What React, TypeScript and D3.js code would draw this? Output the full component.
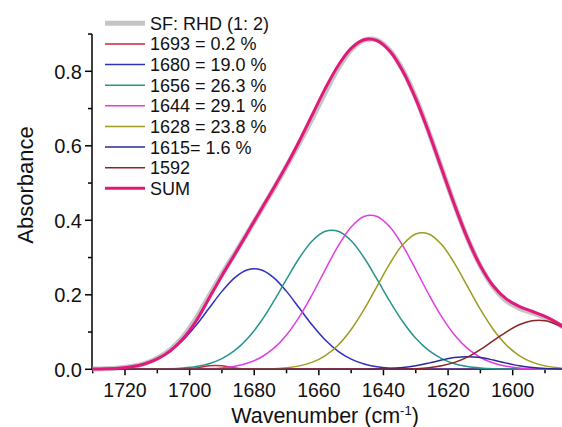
import React from "react";
import * as d3 from "d3";

const WN = [1730,1726,1722,1718,1714,1710,1706,1702,1698,1694,1690,1686,1682,1678,1674,1670,1666,1662,1658,1654,1650,1646,1642,1638,1634,1630,1626,1622,1618,1614,1610,1606,1602,1598,1594,1590,1586,1582];

const EXPERIMENT = [0.0005,0.0013,0.0033,0.0075,0.0155,0.030,0.053,0.088,0.137,0.197,0.256,0.311,0.368,0.426,0.484,0.545,0.608,0.674,0.743,0.808,0.858,0.884,0.884,0.856,0.803,0.729,0.638,0.540,0.442,0.352,0.277,0.221,0.184,0.164,0.152,0.139,0.122,0.099];

const P1693 = [0,0,0,0,0,0,0,0.0005,0.0036,0.0097,0.0097,0.0036,0.0005,0,0,0,0,0,0,0,0,0,0,0,0,0,0,0,0,0,0,0,0,0,0,0,0,0];
const P1680 = [0.0005,0.0012,0.003,0.0068,0.0141,0.0272,0.0481,0.0786,0.1182,0.1638,0.2092,0.2463,0.2672,0.2672,0.2463,0.2092,0.1638,0.1182,0.0786,0.0481,0.0272,0.0141,0.0068,0.003,0.0012,0.0005,0.0002,0,0,0,0,0,0,0,0,0,0,0];
const P1656 = [0,0,0,0.0001,0.0002,0.0006,0.0014,0.0034,0.0074,0.0151,0.0287,0.0506,0.0833,0.1276,0.1821,0.2419,0.2995,0.3452,0.3707,0.3707,0.3452,0.2995,0.2419,0.1821,0.1276,0.0833,0.0506,0.0287,0.0151,0.0074,0.0034,0.0014,0.0006,0.0002,0.0001,0,0,0];
const P1644 = [0,0,0,0,0,0,0.0001,0.0002,0.0006,0.0016,0.0038,0.0082,0.0167,0.0317,0.056,0.0922,0.1412,0.2015,0.2678,0.3315,0.3822,0.4103,0.4103,0.3822,0.3315,0.2678,0.2015,0.1412,0.0922,0.056,0.0317,0.0167,0.0082,0.0038,0.0016,0.0006,0.0002,0.0001];
const P1628 = [0,0,0,0,0,0,0,0,0,0,0,0.0001,0.0002,0.0006,0.0017,0.0041,0.0092,0.0192,0.037,0.0654,0.1068,0.1606,0.2226,0.2843,0.3348,0.3633,0.3633,0.3348,0.2843,0.2226,0.1606,0.1068,0.0654,0.037,0.0192,0.0092,0.0041,0.0017];
const P1615 = [0,0,0,0,0,0,0,0,0,0,0,0,0,0,0,0,0,0,0,0,0.0001,0.0002,0.0007,0.0019,0.0046,0.0095,0.0166,0.0247,0.0314,0.034,0.0314,0.0247,0.0166,0.0095,0.0046,0.0019,0.0007,0.0002];
const P1592 = [0,0,0,0,0,0,0,0,0,0,0,0,0,0,0,0,0,0,0,0,0,0,0.0001,0.0003,0.0007,0.0018,0.0043,0.0095,0.0185,0.0325,0.053,0.077,0.100,0.1195,0.1304,0.1304,0.1187,0.0982];
const SUM = [0.0005,0.0012,0.003,0.0069,0.0143,0.0278,0.0496,0.0827,0.1298,0.1902,0.2514,0.3088,0.3679,0.4271,0.4861,0.5474,0.6137,0.6841,0.7541,0.8157,0.8615,0.8847,0.8824,0.8538,0.8004,0.7262,0.6365,0.5386,0.4409,0.3515,0.2777,0.2235,0.189,0.1692,0.1558,0.1421,0.1237,0.1001];

const LEGEND_LABELS = ["SF: RHD (1: 2)","1693 = 0.2 %","1680 = 19.0 %","1656 = 26.3 %","1644 = 29.1 %","1628 = 23.8 %","1615= 1.6 %","1592","SUM"];
const X_TICKS = [1720,1700,1680,1660,1640,1620,1600];
const X_MINOR = [1730,1710,1690,1670,1650,1630,1610,1590];
const Y_TICKS = [0,0.2,0.4,0.6,0.8];
const Y_MINOR = [0.1,0.3,0.5,0.7,0.9];

const SERIES = [
  { values: EXPERIMENT, color: "#c4c4c4", width: 5 },
  { values: P1693, color: "#cf2630", width: 1.5 },
  { values: P1680, color: "#2f2fc4", width: 1.5 },
  { values: P1656, color: "#25948c", width: 1.5 },
  { values: P1644, color: "#e03ee0", width: 1.5 },
  { values: P1628, color: "#9c9c1e", width: 1.5 },
  { values: P1615, color: "#2a2a92", width: 1.5 },
  { values: P1592, color: "#8c2424", width: 1.5 },
  { values: SUM, color: "#e3187d", width: 3 },
];

const FONT = "'Liberation Sans', Arial, Helvetica, sans-serif";

export default function App() {
  const W = 562, H = 427;
  const x = d3.scaleLinear().domain([1720, 1600]).range([125, 512.7]);
  const y = d3.scaleLinear().domain([0, 0.8]).range([369.3, 71.3]);
  const x0 = 92, x1 = 562;
  const yTop = y(0.9);
  const line = (vals: number[]) =>
    d3.line<number>().x((_, i) => x(WN[i])).y((v) => y(v)).curve(d3.curveCatmullRom.alpha(0.5))(vals) || "";

  return (
    <div style={{ position: "absolute", left: 0, top: 0 }}>
      <svg width={W} height={H} style={{ display: "block", background: "#fff" }} fontFamily={FONT}>
        <defs>
          <clipPath id="plotclip">
            <rect x={x0} y={0} width={x1 - x0} height={372} />
          </clipPath>
        </defs>
        <line x1={x0} x2={x0} y1={yTop} y2={y(0)} stroke="#000" strokeWidth={1.5} />
        <line x1={x0} x2={x1} y1={y(0)} y2={y(0)} stroke="#000" strokeWidth={1.5} />
        {X_TICKS.map((t) => (
          <g key={"xt" + t}>
            <line x1={x(t)} x2={x(t)} y1={y(0)} y2={y(0) + 6} stroke="#000" strokeWidth={1.5} />
            <text x={x(t)} y={396.5} textAnchor="middle" fontSize={19.5} fill="#111">{t}</text>
          </g>
        ))}
        {X_MINOR.map((t) => (
          <line key={"xm" + t} x1={x(t)} x2={x(t)} y1={y(0)} y2={y(0) + 4} stroke="#000" strokeWidth={1.5} />
        ))}
        {Y_TICKS.map((t) => (
          <g key={"yt" + t}>
            <line x1={x0 - 7} x2={x0} y1={y(t)} y2={y(t)} stroke="#000" strokeWidth={1.5} />
            <text x={82} y={y(t)} dy="0.36em" textAnchor="end" fontSize={20} fill="#111">{t.toFixed(1)}</text>
          </g>
        ))}
        {Y_MINOR.map((t) => (
          <line key={"ym" + t} x1={x0 - 4} x2={x0} y1={y(t)} y2={y(t)} stroke="#000" strokeWidth={1.5} />
        ))}
        <text x={325} y={423} textAnchor="middle" fontSize={21.5} fill="#111">
          Wavenumber (cm<tspan dy={-8} fontSize={13}>-1</tspan><tspan dy={8}>)</tspan>
        </text>
        <text transform={`translate(33,185) rotate(-90)`} textAnchor="middle" fontSize={22} fill="#111">Absorbance</text>
        <g clipPath="url(#plotclip)">
          {SERIES.map((s, i) => (
            <path key={"s" + i} d={line(s.values)} fill="none" stroke={s.color} strokeWidth={s.width} strokeLinejoin="round" />
          ))}
        </g>
        {SERIES.map((s, i) => {
          const ly = 23.3 + i * 20.63;
          return (
            <g key={"lg" + i}>
              <line x1={105} x2={145} y1={ly} y2={ly} stroke={s.color} strokeWidth={s.width} />
              <text x={150} y={ly} dy="0.36em" fontSize={18} fill="#111">{LEGEND_LABELS[i]}</text>
            </g>
          );
        })}
      </svg>
    </div>
  );
}
